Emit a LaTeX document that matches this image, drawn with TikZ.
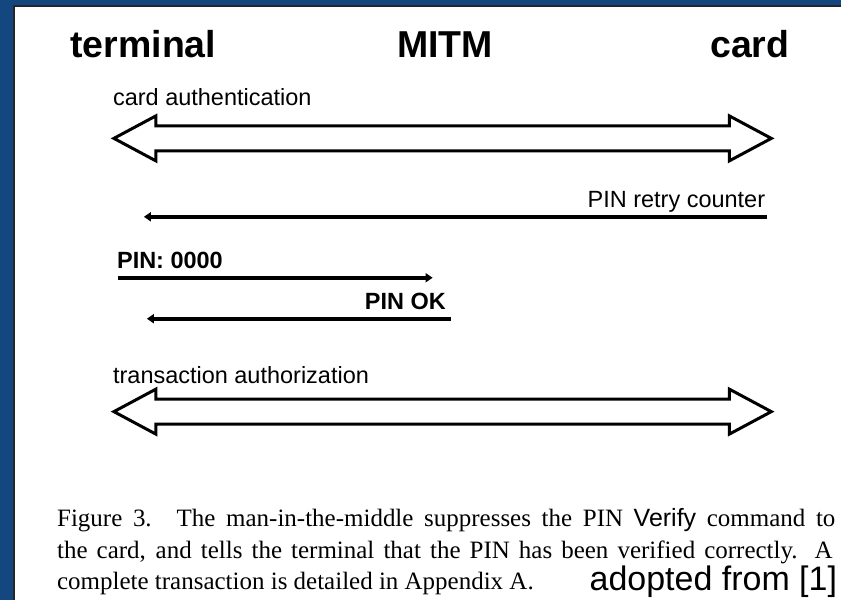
\documentclass[tikz,border=0pt]{standalone}
\usepackage{fontspec}
\setmainfont{Liberation Serif}
\setsansfont{Liberation Sans}
\usetikzlibrary{arrows.meta,calc,positioning}

\definecolor{frameblue}{RGB}{20,70,128}

\begin{document}
\begin{tikzpicture}[x=1pt, y=-1pt,
party/.style={font=\fontsize{37.5}{42}\sffamily\bfseries, inner sep=0pt, anchor=base},
label/.style={font=\fontsize{23.5}{28}\sffamily, inner sep=0pt},
boldlabel/.style={font=\fontsize{23.5}{28}\sffamily\bfseries, inner sep=0pt},
msg/.style={draw, line width=4pt, -{Triangle[length=7pt,width=9pt]}},
fatarrow/.style={draw, line width=3pt, fill=white, line join=miter},
caption/.style={font=\fontsize{25}{31}\selectfont, inner sep=0pt, anchor=base west}]

% Frame
\fill[frameblue] (0,0) rectangle (842,601);
\fill[white] (15,7) rectangle (842,601);
\draw[black!85, line width=1.5pt] (14,601) -- (14,6) -- (842,6);
\useasboundingbox (0,0) rectangle (842,601);

% Parties
\node[party] (terminal) at (143.5,58) {terminal};
\node[party] (mitm) at (445.5,58) {MITM};
\node[party] (card) at (750.5,58) {card};

% Card authentication
\coordinate (authL) at (114,138.5);
\coordinate (authR) at (772,138.5);
\node[label, anchor=base west] (authtext) at (113,106) {card authentication};
\path[fatarrow] (authL) -- ++(42,-22.5) -- ++(0,10) -- ($(authR)+(-42,-12.5)$) -- ++(0,-10)
  -- (authR) -- ++(-42,22.5) -- ++(0,-10) -- ($(authL)+(42,12.5)$) -- ++(0,10) -- cycle;

% PIN retry counter
\coordinate (retryR) at (768,217);
\coordinate (retryL) at (144,217);
\node[label, anchor=base east] (retrytext) at (766,208) {PIN retry counter};
\path[msg] (retryR) -- (retryL);

% PIN to MITM
\coordinate (pinL) at (118,278);
\coordinate (pinR) at (433,278);
\node[boldlabel, anchor=base west] (pintext) at (117,269) {PIN: 0000};
\path[msg] (pinL) -- (pinR);

% PIN OK back to terminal
\coordinate (okR) at (451,319);
\coordinate (okL) at (147,319);
\node[boldlabel, anchor=base west] (oktext) at (365,310) {PIN OK};
\path[msg] (okR) -- (okL);

% Transaction authorization
\coordinate (txL) at (114,412);
\coordinate (txR) at (772,412);
\node[label, anchor=base west] (txtext) at (113,384) {transaction authorization};
\path[fatarrow] (txL) -- ++(42,-22.5) -- ++(0,10) -- ($(txR)+(-42,-12.5)$) -- ++(0,-10)
  -- (txR) -- ++(-42,22.5) -- ++(0,-10) -- ($(txL)+(42,12.5)$) -- ++(0,10) -- cycle;

% Caption
\node[caption] (cap1) at (57,527) {\makebox[779pt][s]{Figure 3.\quad The man-in-the-middle suppresses the PIN {\sffamily Verify} command to}};
\node[caption] (cap2) at (57,559) {\makebox[776pt][s]{the card, and tells the terminal that the PIN has been verified correctly. A}};
\node[caption] (cap3) at (57,590) {complete transaction is detailed in Appendix A.};
\node[font=\fontsize{34}{38}\sffamily, inner sep=0pt, anchor=base east] (source) at (838,591) {adopted from [1]};
\end{tikzpicture}
\end{document}
